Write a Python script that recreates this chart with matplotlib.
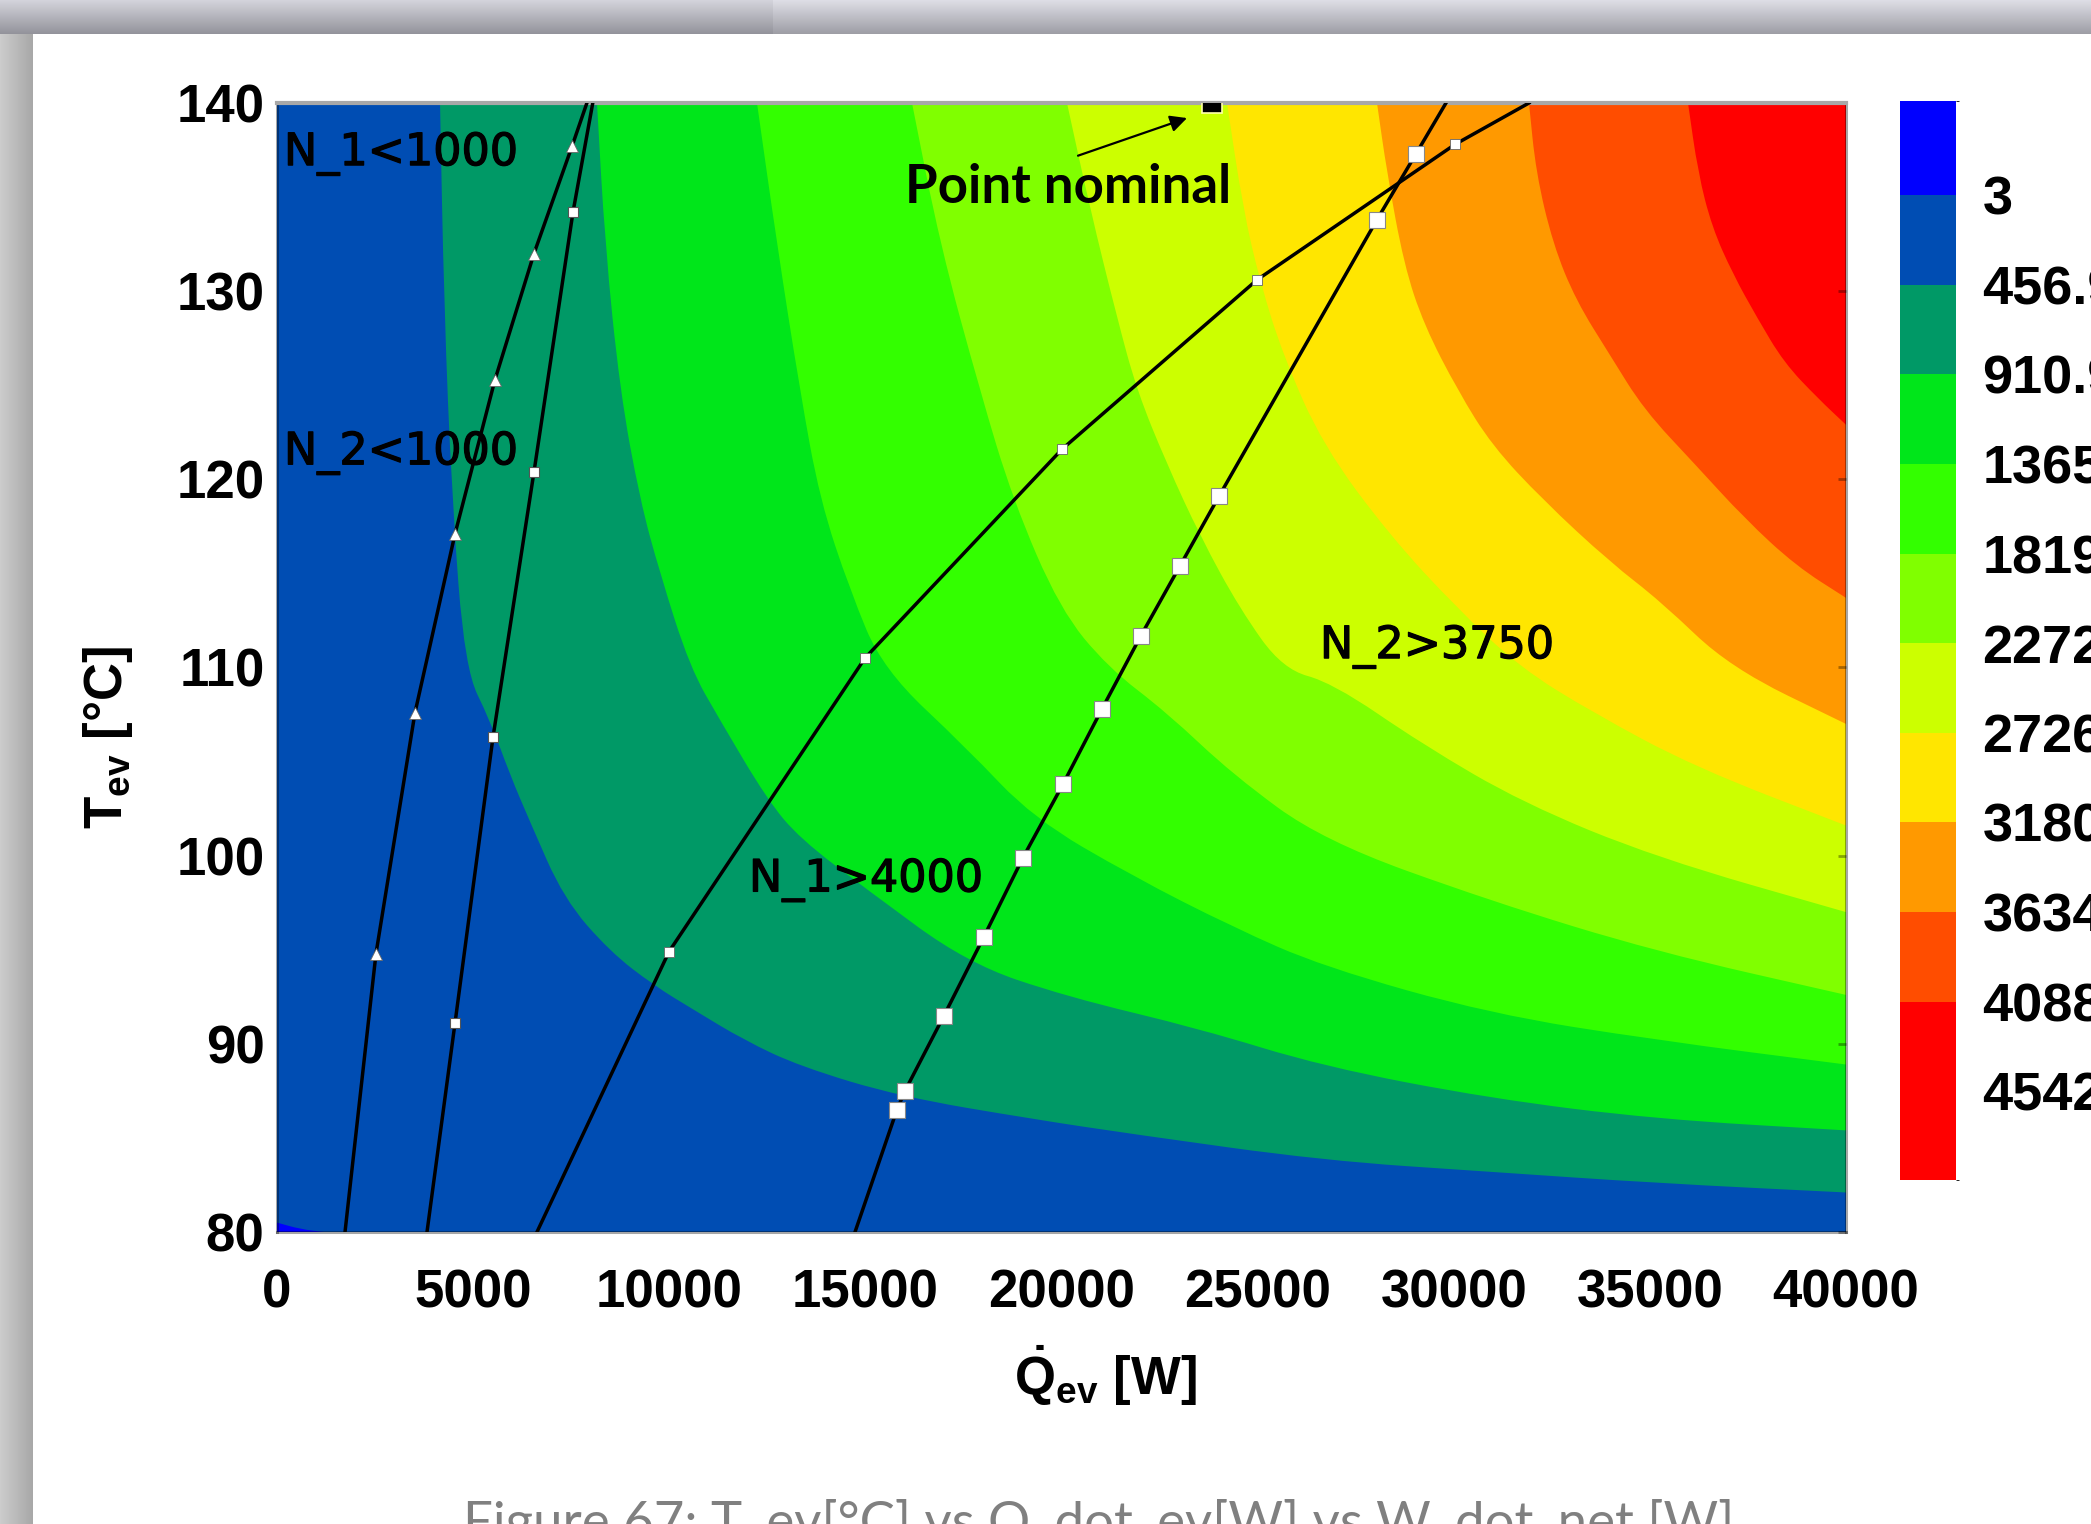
import numpy as np
import matplotlib
matplotlib.use("Agg")
import matplotlib.pyplot as plt
import matplotlib.patheffects as pe
from matplotlib.colors import ListedColormap, BoundaryNorm
from matplotlib.cm import ScalarMappable
from matplotlib.path import Path
from matplotlib.patches import PathPatch

plt.rcParams['mathtext.fontset'] = 'custom'
plt.rcParams['mathtext.rm'] = 'Liberation Sans:bold'
plt.rcParams['mathtext.bf'] = 'Liberation Sans:bold'
plt.rcParams['mathtext.it'] = 'Liberation Sans:bold'

# ---------------- data ----------------
q_ticks = [0, 5000, 10000, 15000, 20000, 25000, 30000, 35000, 40000]
t_ticks = [80, 90, 100, 110, 120, 130, 140]

band_colors = ['#0000ff', '#004db3', '#009966', '#00e61a', '#33ff00', '#80ff00',
               '#ccff00', '#ffe600', '#ff9900', '#ff4d00', '#ff0000']
levels = [3, 456.95, 910.9, 1364.85, 1818.8, 2272.75, 2726.7, 3180.65, 3634.6, 4088.55, 4542.5]
level_labels = ['3', '456.9', '910.9', '1365', '1819', '2272', '2726', '3180', '3634', '4088', '4542']
cbar_min, cbar_max = -474, 4992

# contour boundaries of W_dot_net (Q_ev [W], T_ev [degC])
b0_q = [0, 600, 1200]
b0_t = [80.5, 80.15, 80.0]
b1_q = [4156, 4258, 4461, 4793, 5430, 5940, 6450, 7317, 8490, 9611, 10631, 11906, 13333,
        15883, 19273, 21823, 26667, 30924, 35156, 40000]
b1_t = [140, 129.3, 118.9, 109.9, 107.2, 104.3, 101.8, 97.7, 94.9, 93.1, 91.8, 90.2, 88.8,
        87.2, 86.0, 85.2, 83.8, 83.2, 82.6, 82.1]
b2_q = [8158, 8362, 8744, 9254, 9764, 10529, 11294, 12492, 13333, 15041, 17591, 20140,
        23531, 26667, 30924, 35156, 40000]
b2_t = [140, 132.5, 124.7, 118.9, 115.0, 110.0, 107.2, 103.0, 100.9, 98.2, 94.3, 92.5,
        90.8, 88.8, 87.1, 86.0, 85.4]
b3_q = [12237, 12747, 13333, 13843, 14608, 15449, 17591, 19273, 21823, 24372, 26667,
        30924, 35156, 40000]
b3_t = [140, 132.5, 124.7, 118.9, 114.1, 109.9, 105.7, 102.0, 98.9, 96.2, 94.1, 91.6, 90.2, 88.9]
b4_q = [16189, 16903, 17922, 18764, 19962, 21186, 22690, 24372, 26667, 30924, 35156, 40000]
b4_t = [140, 132.5, 124.7, 118.9, 113.1, 110.0, 107.6, 104.3, 100.8, 97.6, 94.9, 92.6]
b5_q = [20140, 20727, 21415, 21925, 22690, 23531, 24551, 25647, 26900, 29216, 31766, 35156, 40000]
b5_t = [140, 134.4, 128.6, 124.7, 120.8, 117.0, 113.1, 109.9, 109.2, 105.9, 102.8, 99.9, 97.0]
b6_q = [24219, 24627, 25061, 25647, 26667, 28375, 30108, 31689, 33550, 36150, 40000]
b6_t = [140, 134.4, 130.5, 126.6, 121.8, 117.0, 113.1, 110.0, 107.6, 104.7, 101.6]
b7_q = [28043, 28298, 28732, 29242, 30108, 30975, 32275, 33984, 35284, 37043, 40000]
b7_t = [140, 136.3, 131.4, 128.2, 124.7, 121.8, 118.9, 115.6, 113.5, 110.0, 107.0]
b8_q = [31918, 32097, 32530, 33117, 33984, 34850, 36150, 37425, 38725, 40000]
b8_t = [140, 136.3, 132.5, 129.5, 126.6, 123.7, 120.8, 117.9, 115.4, 113.7]
b9_q = [35972, 36227, 36584, 37119, 37731, 38419, 39286, 40000]
b9_t = [140, 136.3, 133.4, 130.9, 128.6, 126.2, 124.3, 122.9]

# operating curves
cA_q = [1734, 2524, 3518, 4538, 5558, 6552, 7521, 7900]
cA_t = [80, 94.8, 107.6, 117.1, 125.3, 132.0, 137.7, 140]
cB_q = [3824, 4538, 5507, 6552, 7546, 8050]
cB_t = [80, 91.1, 106.3, 120.4, 134.2, 140]
cC_q = [6628, 9994, 14990, 20013, 24984, 30032, 31918]
cC_t = [80, 94.9, 110.5, 121.6, 130.6, 137.8, 140]
cD_q = [14736, 15806, 16010, 17004, 18024, 19019, 20038, 21033, 22027, 23021, 24015,
        28043, 29038, 29802]
cD_t = [80, 86.5, 87.5, 91.5, 95.7, 99.9, 103.8, 107.8, 111.7, 115.4, 119.1,
        133.8, 137.3, 140]

nominal_q, nominal_t = 23840, 140

# ---------------- figure ----------------
W, H = 2091, 1524
fig = plt.figure(figsize=(W / 100, H / 100), dpi=100)
fig.patch.set_facecolor('white')

# document frame (decoration)
bg = fig.add_axes([0, 0, 1, 1], zorder=-5)
bg.set_xlim(0, W)
bg.set_ylim(H, 0)
bg.axis('off')
top = np.ones((34, W, 3))
g = np.linspace(0.87, 0.62, 34)[:, None]
top[:, :, :] = g[:, :, None]
top[:, :773, :] -= 0.04
top[:, :, 2] += 0.03
bg.imshow(np.clip(top, 0, 1), extent=[0, W, 34, 0], aspect='auto', zorder=1)
left = np.ones((H - 34, 33, 3))
gl = np.linspace(0.80, 0.66, 33)[None, :]
left[:, :, :] = gl[:, :, None]
bg.imshow(left, extent=[0, 33, H, 34], aspect='auto', zorder=1)

ax = fig.add_axes([277 / W, 1 - 1232 / H, (1846 - 277) / W, (1232 - 103) / H])
ax.set_xlim(0, 40000)
ax.set_ylim(80, 140)
ax.set_facecolor(band_colors[0])


def smooth_region(q, t):
    """Closed path: smooth curve through the boundary, then along the plot edges."""
    pts = list(zip(q, t))
    verts = [pts[0]]
    codes = [Path.MOVETO]
    if len(pts) > 2:
        verts.append(((pts[0][0] + pts[1][0]) / 2, (pts[0][1] + pts[1][1]) / 2))
        codes.append(Path.LINETO)
        for i in range(1, len(pts) - 1):
            nxt = pts[i + 1]
            mid = ((pts[i][0] + nxt[0]) / 2, (pts[i][1] + nxt[1]) / 2)
            verts += [pts[i], mid]
            codes += [Path.CURVE3, Path.CURVE3]
    verts.append(pts[-1])
    codes.append(Path.LINETO)
    if pts[-1][1] == 80:
        verts.append((40000, 80)); codes.append(Path.LINETO)
    verts.append((40000, 140)); codes.append(Path.LINETO)
    if pts[0][0] == 0:
        verts.append((0, 140)); codes.append(Path.LINETO)
    verts.append(pts[0]); codes.append(Path.CLOSEPOLY)
    return Path(verts, codes)


boundaries = [(b0_q, b0_t), (b1_q, b1_t), (b2_q, b2_t), (b3_q, b3_t), (b4_q, b4_t),
              (b5_q, b5_t), (b6_q, b6_t), (b7_q, b7_t), (b8_q, b8_t), (b9_q, b9_t)]
for k, (bq, bt) in enumerate(boundaries):
    ax.add_patch(PathPatch(smooth_region(bq, bt), facecolor=band_colors[k + 1], lw=0,
                           zorder=0.5))

lw = 2.5
ax.plot(cA_q, cA_t, color='black', lw=lw, zorder=3, marker='^', markevery=list(range(1, 7)),
        ms=8, mfc='white', mec='#666666', mew=0.6)
ax.plot(cB_q, cB_t, color='black', lw=lw, zorder=3, marker='s', markevery=list(range(1, 5)),
        ms=7, mfc='white', mec='#555555', mew=0.8)
ax.plot(cC_q, cC_t, color='black', lw=lw, zorder=3, marker='s', markevery=list(range(1, 6)),
        ms=7, mfc='white', mec='#666666', mew=0.6)
ax.plot(cD_q, cD_t, color='black', lw=lw, zorder=3, marker='s', markevery=list(range(1, 13)),
        ms=11, mfc='white', mec='#888888', mew=0.8)
ax.plot([nominal_q], [nominal_t], marker='s', ms=15, mfc='black', mec='#ffffaa', mew=1.2,
        zorder=4)

stroke = [pe.withStroke(linewidth=0.9, foreground='black')]
txt_kw = dict(family='DejaVu Sans', fontsize=32, color='black', zorder=5, va='baseline',
              ha='left', path_effects=stroke)
ax.text(178, 136.7, 'N_1<1000', **txt_kw)
ax.text(178, 120.8, 'N_2<1000', **txt_kw)
ax.text(12033, 98.1, 'N_1>4000', **txt_kw)
ax.text(26590, 110.5, 'N_2>3750', **txt_kw)
ax.text(16000, 134.7, 'Point nominal', family='Lato', fontweight='bold', fontsize=38,
        color='black', va='baseline', ha='left', zorder=5)
ax.annotate('', xy=(23200, 139.2), xytext=(20421, 137.2),
            arrowprops=dict(arrowstyle='-|>', color='black', lw=1.6, mutation_scale=25,
                            shrinkA=0, shrinkB=0), zorder=5)

tick_font = dict(family='Liberation Sans', weight='bold', size=38)
ax.set_xticks(q_ticks)
ax.set_xticklabels([str(v) for v in q_ticks], fontdict=tick_font)
ax.set_yticks(t_ticks)
ax.set_yticklabels([str(v) for v in t_ticks], fontdict=tick_font)
ax.tick_params(axis='x', bottom=False, top=False, pad=23)
ax.tick_params(axis='y', left=False, right=True, direction='in', length=6, width=2,
               color=(0, 0, 0, 0.35), pad=9)

for s in ['left', 'bottom', 'right']:
    ax.spines[s].set_color((0, 0, 0, 0.35))
    ax.spines[s].set_linewidth(2.2)
ax.spines['top'].set_color('#a8a8a8')
ax.spines['top'].set_linewidth(3)

ax.text(-0.108, 0.438, r'$\mathbf{T_{ev}}$ [°C]', rotation=90, ha='center', va='center',
        transform=ax.transAxes, family='Liberation Sans', weight='bold', fontsize=38)
ax.text(0.528, -0.127, r'$\mathbf{\dot{Q}_{ev}}$ [W]', ha='center', va='center',
        transform=ax.transAxes, family='Liberation Sans', weight='bold', fontsize=38)

# colorbar
cax = fig.add_axes([1900 / W, 1 - 1180 / H, 56 / W, (1180 - 101) / H])
bounds = [cbar_min] + levels[:10] + [cbar_max]
norm = BoundaryNorm(bounds, len(band_colors))
sm = ScalarMappable(norm=norm, cmap=ListedColormap(band_colors))
cb = fig.colorbar(sm, cax=cax, spacing='proportional', ticks=levels)
cb.set_ticklabels(level_labels)
cax.invert_yaxis()
cb.outline.set_visible(False)
cax.tick_params(length=0, pad=19)
for lab in cax.get_yticklabels():
    lab.set_fontfamily('Liberation Sans')
    lab.set_fontweight('bold')
    lab.set_fontsize(39)

fig.text(463 / W, (H - 1538) / H, 'Figure 67: T_ev[°C] vs Q_dot_ev[W] vs W_dot_net [W]',
         family='Lato', fontsize=38, color='#808080', va='baseline', ha='left')

fig.savefig('out.png', dpi=100)
